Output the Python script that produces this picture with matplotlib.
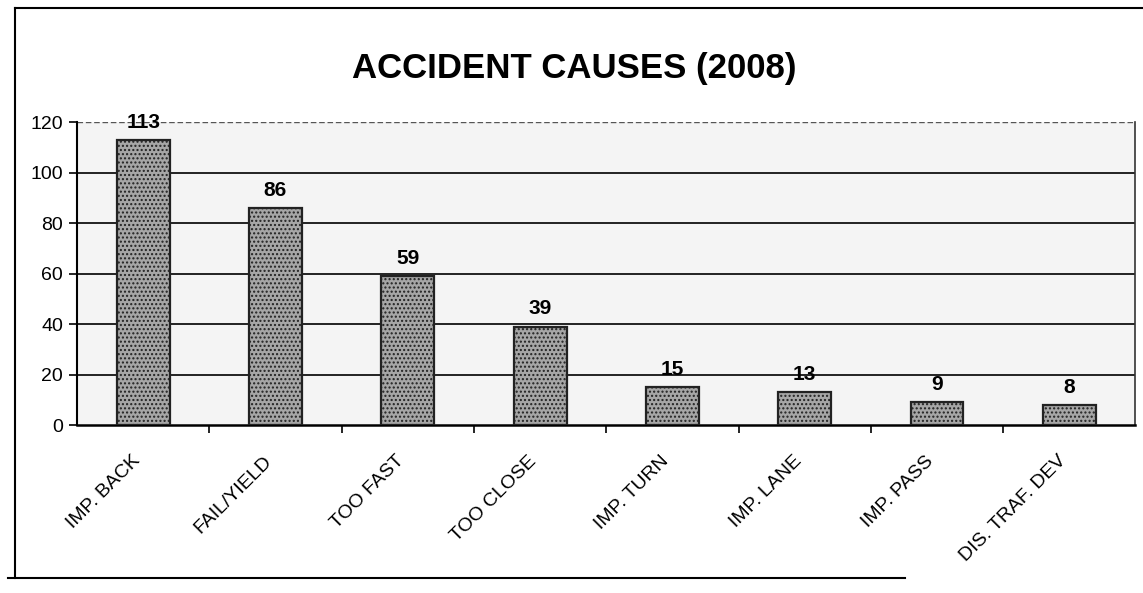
import matplotlib
matplotlib.use("Agg")
import matplotlib.pyplot as plt
from matplotlib.lines import Line2D
from matplotlib.transforms import ScaledTranslation

categories = ["IMP. BACK", "FAIL/YIELD", "TOO FAST", "TOO CLOSE",
              "IMP. TURN", "IMP. LANE", "IMP. PASS", "DIS. TRAF. DEV"]
values = [113, 86, 59, 39, 15, 13, 9, 8]
yticks = [0, 20, 40, 60, 80, 100, 120]
title = "ACCIDENT CAUSES (2008)"

plt.rcParams['font.family'] = ['Liberation Sans', 'DejaVu Sans']
plt.rcParams['hatch.linewidth'] = 1.0

fig = plt.figure(figsize=(11.43, 5.93), dpi=100)
ax = fig.add_axes([0.0674, 0.283, 0.926, 0.511])
ax.set_facecolor('#f4f4f4')

x = list(range(len(categories)))
ax.set_xlim(-0.5, len(categories) - 0.5)
ax.set_ylim(0, 120)

for yv in yticks[1:-1]:
    ax.axhline(yv, color='black', lw=1.2, zorder=1)
ax.axhline(120, color='#555555', lw=1.0, ls=(0, (4, 2)), zorder=1)

bars = ax.bar(x, values, width=0.4, facecolor='#a6a6a6', edgecolor='#222222',
              linewidth=1.6, hatch='....', zorder=3)
for xi, v in zip(x, values):
    ax.annotate(str(v), (xi, v), xytext=(0, 6), textcoords='offset points',
                ha='center', va='bottom', fontsize=15, fontweight='bold')

ax.set_yticks(yticks)
ax.set_yticklabels([str(t) for t in yticks], fontsize=14)
ax.tick_params(axis='y', length=6, width=1.2, direction='out', pad=4)

ax.set_xticks([i + 0.5 for i in x[:-1]], minor=True)
ax.set_xticks(x)
ax.set_xticklabels(categories, rotation=45, ha='right', rotation_mode='anchor', fontsize=14)
ax.tick_params(axis='x', which='major', length=0, pad=16)
ax.tick_params(axis='x', which='minor', length=6, width=1.2, direction='out')
shift = ScaledTranslation(-12 / 100, -5 / 100, fig.dpi_scale_trans)
for lab in ax.get_xticklabels():
    lab.set_transform(lab.get_transform() + shift)

ax.spines['top'].set_visible(False)
ax.spines['left'].set_linewidth(1.5)
ax.spines['bottom'].set_linewidth(1.8)
ax.spines['right'].set_linewidth(1.2)
ax.spines['right'].set_color('#333333')

fig.text(0.502, 0.885, title, ha='center', va='center', fontsize=25, fontweight='bold')

# outer chart frame (scanned border)
fig.add_artist(Line2D([0.013, 0.013], [0.026, 0.987], color='black', lw=1.5))
fig.add_artist(Line2D([0.013, 1.0], [0.987, 0.987], color='black', lw=1.5))
fig.add_artist(Line2D([0.007, 0.792], [0.026, 0.026], color='black', lw=1.5))

fig.savefig("out.png", dpi=100)
